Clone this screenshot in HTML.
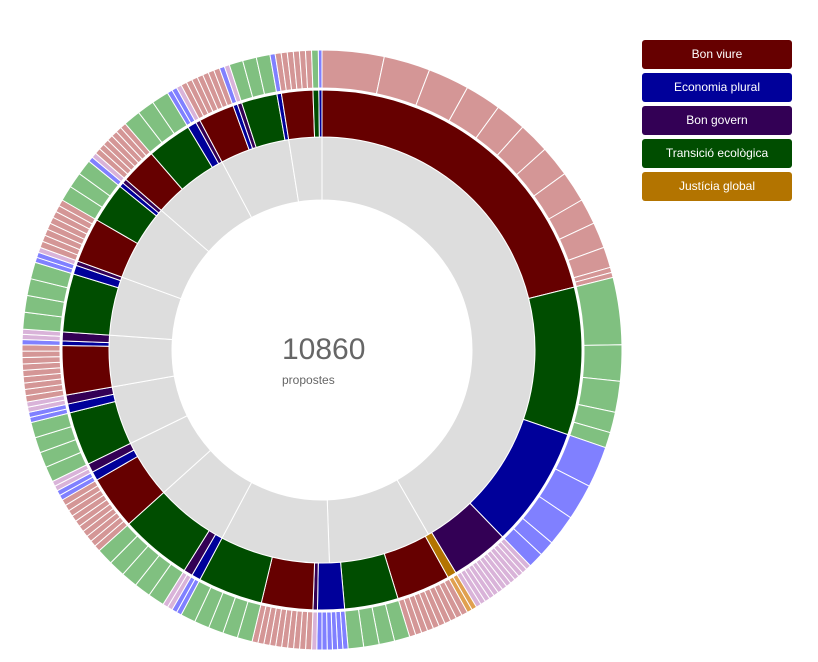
<!DOCTYPE html>
<html><head><meta charset="utf-8"><style>
body{margin:0;background:#fff;width:818px;height:662px;overflow:hidden;font-family:"Liberation Sans",sans-serif}
.lg{position:absolute;left:642px;width:150px;height:29px;border-radius:3px;color:#fff;font-size:12px;text-align:center;line-height:29px}
</style></head><body>
<svg id="s" width="818" height="662" style="position:absolute;left:0;top:0"></svg>
<div class="lg" style="top:40px;background:#660000">Bon viure</div>
<div class="lg" style="top:73px;background:#00009a">Economia plural</div>
<div class="lg" style="top:106px;background:#330055">Bon govern</div>
<div class="lg" style="top:139px;background:#004d00">Transició ecològica</div>
<div class="lg" style="top:172px;background:#b37400">Justícia global</div>
<div style="position:absolute;left:282px;top:333px;font-size:30px;color:#666">10860</div>
<div style="position:absolute;left:282px;top:373px;font-size:12px;color:#666">propostes</div>
<script>
var cx=322,cy=350,s=document.getElementById('s'),h='';
function P(a,r){a=a*Math.PI/180;return (cx+r*Math.sin(a)).toFixed(2)+','+(cy-r*Math.cos(a)).toFixed(2);}
function arc(a0,a1,r0,r1,f){var l=(a1-a0)>180?1:0;
h+='<path d="M'+P(a0,r1)+'A'+r1+','+r1+' 0 '+l+' 1 '+P(a1,r1)+'L'+P(a1,r0)+'A'+r0+','+r0+' 0 '+l+' 0 '+P(a0,r0)+'Z" fill="'+f+'" stroke="#fff" stroke-width="1"/>';}
var C={r:['#660000','#d49696',1.2],g:['#004d00','#80c080',3],b:['#00009a','#8080ff',1],p:['#330055','#d9b3d9',1],o:['#b37400','#e0a050',1]};
var mid=[[0,76,'r',[12,21,29,36,42,48,54,60,65,70,74,75]],[76,109,'g',[89,96,102,106]],[109,136,'b',[117,124,130,133]],[136,149,'p'],[149,151,'o'],
[151,163,'r'],[163,175,'g'],[175,181,'b'],[181,182,'p'],[182,193.5,'r'],[193.5,208,'g'],[208,210,'b'],[210,212,'p'],[212,228,'g'],
[228,240,'r'],[240,242,'b'],[242,244,'p'],[244,256,'g'],[256,258,'b'],[258,260,'p'],[260,271,'r'],[271,272,'b'],[272,274,'p'],[274,287,'g'],[287,289,'b'],[289,290,'p'],[290,300,'r'],[300,309,'g'],[309,310,'b'],[310,311,'p'],[311,319,'r'],[319,329,'g'],[329,331,'b'],[331,332,'p'],[332,340,'r'],[340,341,'b'],[341,342,'p'],[342,350,'g'],[350,351,'b'],[351,358,'r'],[358,359.3,'g'],[359.3,360,'b']];
var grey=[0,150,178,208,228,244,260,274,290,311,332,351,360];
for(var i=0;i<grey.length-1;i++)arc(grey[i],grey[i+1],150,213,'#dddddd');
mid.forEach(function(m){var c=C[m[2]];arc(m[0],m[1],213,260,c[0]);
var b=m[3];if(!b){b=[];var n=Math.max(1,Math.round((m[1]-m[0])/c[2]));for(var k=1;k<n;k++)b.push(m[0]+(m[1]-m[0])*k/n);}
var pts=[m[0]].concat(b,[m[1]]);for(var k=0;k<pts.length-1;k++)arc(pts[k],pts[k+1],262,300,c[1]);});
s.innerHTML=h;
</script>
</body></html>
